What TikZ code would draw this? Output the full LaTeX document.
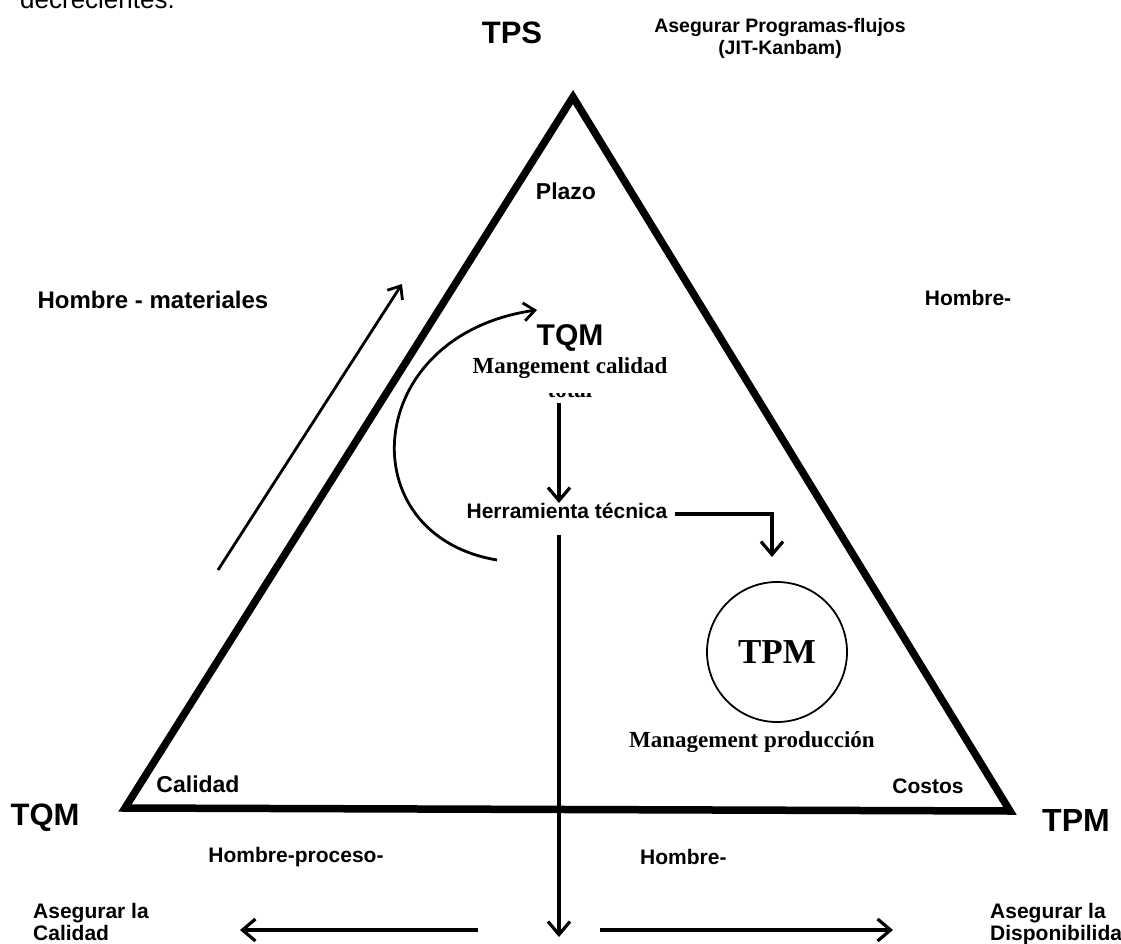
\documentclass[tikz,border=0pt]{standalone}
\usepackage{fontspec}
\setmainfont{Liberation Sans}
\newfontfamily\serifbf{Liberation Serif}
\usetikzlibrary{arrows.meta}
\begin{document}
\begin{tikzpicture}[x=1pt,y=-1pt,
  lbl/.style={font=\fontsize{21}{22}\selectfont\bfseries, inner sep=0pt},
  lblL/.style={font=\fontsize{23}{24}\selectfont\bfseries, inner sep=0pt},
  big/.style={font=\fontsize{31}{33}\selectfont\bfseries, inner sep=0pt},
  srf/.style={font=\serifbf\fontsize{23}{24}\selectfont\bfseries, inner sep=0pt},
  tri/.style={line width=7.5pt, line join=miter},
  arr/.style={line width=3.2pt, -{Straight Barb[length=13pt,width=22pt,line width=3.2pt]}},
  arrthin/.style={line width=2.8pt, -{Straight Barb[length=11pt,width=18pt,line width=2.8pt]}}
]
\fill[white] (0,0) rectangle (1121,944);
\useasboundingbox (0,0) rectangle (1121,944);

% cut-off text at top
\node[anchor=base west, inner sep=0pt, font=\fontsize{26}{27}\selectfont] (decr) at (20,9) {decrecientes.};

% triangle
\coordinate (A) at (573,97);
\coordinate (B) at (125,808);
\coordinate (C) at (1010,811);
\draw[tri] (A) -- (B) -- (C) -- cycle;

% vertex labels
\node[big] (tps) at (512,33) {TPS};
\node[lbl, align=center, font=\fontsize{19.5}{22}\selectfont\bfseries] (aprog) at (780,38) {Asegurar Programas-flujos\\(JIT-Kanbam)};
\node[big] (tqmL) at (45,818) {TQM};
\node[big, font=\fontsize{32}{33}\selectfont\bfseries] (tpmR) at (1076,820) {TPM};

% inner corner labels
\node[lblL] (plazo) at (566,191) {Plazo};
\node[lblL] (calidad) at (198,784) {Calidad};
\node[lbl] (costos) at (928,786) {Costos};

% side labels
\node[lblL, font=\fontsize{24}{25}\selectfont\bfseries] (hmat) at (153,300) {Hombre - materiales};
\node[lbl] (hr) at (968,298) {Hombre-};
\node[lbl] (hproc) at (296,857) {Hombre-proceso-};
\node[lbl, anchor=west] (hb) at (640,857) {Hombre-};

% bottom outcomes
\node[lbl, align=left, anchor=north west] (acal) at (33,903) {Asegurar la\\Calidad};
\node[lbl, align=left, anchor=north west] (adisp) at (990,903) {Asegurar la\\Disponibilida};

% centre: TQM
\node[big, font=\fontsize{30}{32}\selectfont\bfseries] (tqmC) at (570,338) {TQM};
\node[srf, anchor=base] (tot) at (570,397) {total};
\fill[white] (535,374) rectangle (605,392.5);
\node[srf] (mcal) at (570,368) {Mangement calidad};

\node[lbl] (ht) at (567,511) {Herramienta técnica};

% TPM circle
\node[circle, draw, line width=1.8pt, minimum size=140pt, inner sep=0pt,
      font=\serifbf\fontsize{35}{36}\selectfont\bfseries] (tpm) at (777,652) {TPM};
\node[srf] (mprod) at (752,742) {Management producción};

% connectors
\coordinate (d0) at (559,403);
\draw[arr] (d0) -- (d0 |- ht.north);

\coordinate (bend) at (772,557);
\draw[arr] ([xshift=7pt,yshift=-3pt]ht.east) -| (bend);

\coordinate (v0) at (559,535);
\coordinate (v1) at (559,937);
\draw[arr] (v0) -- (v1);

\coordinate (l0) at (478,930);
\coordinate (l1) at (240,930);
\draw[arr] (l0) -- (l1);
\coordinate (r0) at (600,930);
\coordinate (r1) at (893,930);
\draw[arr] (r0) -- (r1);

% thin arrow along left side
\coordinate (s0) at (218,570);
\coordinate (s1) at (402,284);
\draw[arrthin] (s0) -- (s1);

% curved arrow
\coordinate (c0) at (497,560);
\coordinate (c1) at (537,310);
\draw[arrthin] (c0) .. controls (348,535) and (362,335) .. (c1);
\end{tikzpicture}
\end{document}
